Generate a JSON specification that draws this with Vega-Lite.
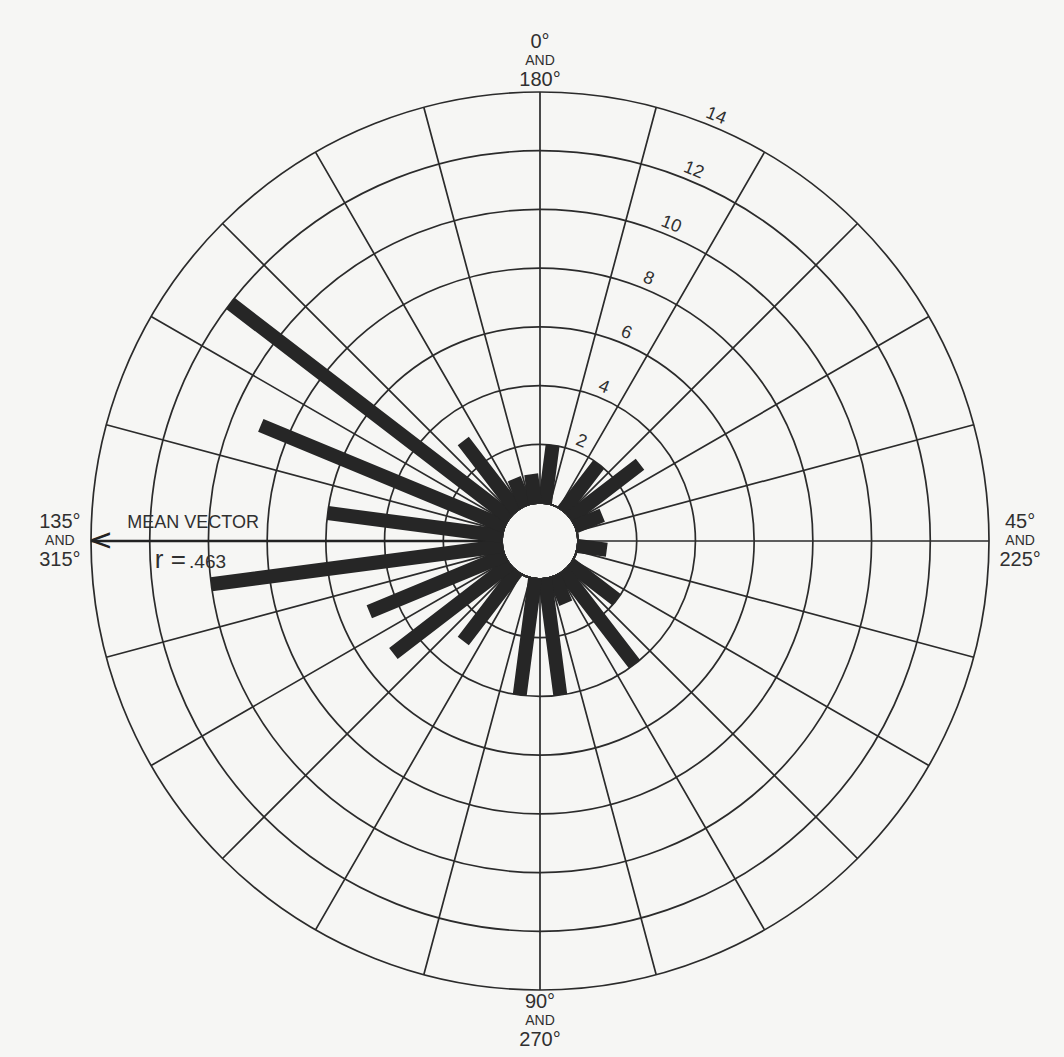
{
  "$schema": "https://vega.github.io/schema/vega-lite/v6.json",
  "autosize": {"type": "none"},
  "width": 1000,
  "height": 1000,
  "padding": {"left": 40, "top": 41, "right": 24, "bottom": 16},
  "background": "#f6f6f4",
  "config": {
    "view": {"stroke": null},
    "text": {"font": "Liberation Sans", "color": "#303030"}
  },
  "datasets": {
    "bins": [
      {"direction": 3.75, "count": 2},
      {"direction": 11.25, "count": 0},
      {"direction": 18.75, "count": 2},
      {"direction": 26.25, "count": 3},
      {"direction": 33.75, "count": 1},
      {"direction": 41.25, "count": 0},
      {"direction": 48.75, "count": 1},
      {"direction": 56.25, "count": 0},
      {"direction": 63.75, "count": 2},
      {"direction": 71.25, "count": 4},
      {"direction": 78.75, "count": 1},
      {"direction": 86.25, "count": 4},
      {"direction": 93.75, "count": 4},
      {"direction": 101.25, "count": 0},
      {"direction": 108.75, "count": 3},
      {"direction": 116.25, "count": 5},
      {"direction": 123.75, "count": 5},
      {"direction": 131.25, "count": 10},
      {"direction": 138.75, "count": 6},
      {"direction": 146.25, "count": 9},
      {"direction": 153.75, "count": 12},
      {"direction": 161.25, "count": 3},
      {"direction": 168.75, "count": 1},
      {"direction": 176.25, "count": 1}
    ],
    "rings": [
      {"ring": 0}, {"ring": 2}, {"ring": 4}, {"ring": 6}, {"ring": 8},
      {"ring": 10}, {"ring": 12}, {"ring": 14}
    ],
    "spokes": [
      {"angle": 0}, {"angle": 7.5}, {"angle": 15}, {"angle": 22.5},
      {"angle": 30}, {"angle": 37.5}, {"angle": 45}, {"angle": 52.5},
      {"angle": 60}, {"angle": 67.5}, {"angle": 75}, {"angle": 82.5},
      {"angle": 90}, {"angle": 97.5}, {"angle": 105}, {"angle": 112.5},
      {"angle": 120}, {"angle": 127.5}, {"angle": 135}, {"angle": 142.5},
      {"angle": 150}, {"angle": 157.5}, {"angle": 165}, {"angle": 172.5}
    ],
    "compass": [
      {"angle": 0, "first": "0°", "second": "180°"},
      {"angle": 45, "first": "45°", "second": "225°"},
      {"angle": 90, "first": "90°", "second": "270°"},
      {"angle": 135, "first": "135°", "second": "315°"}
    ],
    "mean": [
      {"direction": 135, "r": ".463"}
    ]
  },
  "layer": [
    {
      "data": {"name": "rings"},
      "mark": {"type": "arc", "filled": false, "color": "#2b2b2b", "strokeWidth": 1.7},
      "encoding": {
        "theta": {"datum": 0, "type": "quantitative", "scale": {"domain": [0, 180], "range": [0, 6.283185307179586]}},
        "theta2": {"datum": 180},
        "radius": {"field": "ring", "type": "quantitative", "stack": null, "scale": {"type": "linear", "domain": [0, 14], "range": [38, 449], "zero": false}}
      }
    },
    {
      "data": {"name": "spokes"},
      "mark": {"type": "arc", "filled": false, "color": "#2b2b2b", "strokeWidth": 1.7},
      "encoding": {
        "theta": {"field": "angle", "type": "quantitative", "stack": null, "scale": {"domain": [0, 180], "range": [0, 6.283185307179586]}},
        "theta2": {"field": "angle"},
        "radius": {"datum": 14, "type": "quantitative", "scale": {"type": "linear", "domain": [0, 14], "range": [38, 449], "zero": false}},
        "radius2": {"datum": 0}
      }
    },
    {
      "data": {"name": "mean"},
      "mark": {"type": "arc", "filled": false, "color": "#222222", "strokeWidth": 2.6},
      "encoding": {
        "theta": {"field": "direction", "type": "quantitative", "stack": null, "scale": {"domain": [0, 180], "range": [0, 6.283185307179586]}},
        "theta2": {"field": "direction"},
        "radius": {"datum": 14, "type": "quantitative", "scale": {"type": "linear", "domain": [0, 14], "range": [38, 449], "zero": false}},
        "radius2": {"datum": 0}
      }
    },
    {
      "data": {"name": "bins"},
      "transform": [{"filter": "datum.count > 0"}],
      "mark": {"type": "arc", "color": "#262626", "stroke": "#262626", "strokeWidth": 14, "strokeJoin": "bevel"},
      "encoding": {
        "theta": {"field": "direction", "type": "quantitative", "stack": null, "scale": {"domain": [0, 180], "range": [0, 6.283185307179586]}},
        "theta2": {"field": "direction"},
        "radius": {"field": "count", "type": "quantitative", "stack": null, "scale": {"type": "linear", "domain": [0, 14], "range": [38, 449], "zero": false}},
        "radius2": {"datum": 0}
      }
    },
    {
      "data": {"name": "rings"},
      "transform": [{"filter": "datum.ring > 0"}],
      "mark": {"type": "text", "radiusOffset": 11, "angle": 22, "fontSize": 18, "align": "center", "baseline": "middle"},
      "encoding": {
        "theta": {"datum": 11.25, "type": "quantitative", "scale": {"domain": [0, 180], "range": [0, 6.283185307179586]}},
        "radius": {"field": "ring", "type": "quantitative", "stack": null, "scale": {"type": "linear", "domain": [0, 14], "range": [38, 449], "zero": false}},
        "text": {"field": "ring", "type": "quantitative"}
      }
    },
    {
      "data": {"name": "compass"},
      "mark": {"type": "text", "fontSize": 20, "align": "center", "baseline": "middle", "dy": -19},
      "encoding": {
        "theta": {"field": "angle", "type": "quantitative", "stack": null, "scale": {"domain": [0, 180], "range": [0, 6.283185307179586]}},
        "radius": {"datum": 15.06, "type": "quantitative", "scale": {"type": "linear", "domain": [0, 14], "range": [38, 449], "zero": false}},
        "text": {"field": "first"}
      }
    },
    {
      "data": {"name": "compass"},
      "mark": {"type": "text", "fontSize": 14, "align": "center", "baseline": "middle", "dy": 0},
      "encoding": {
        "theta": {"field": "angle", "type": "quantitative", "stack": null, "scale": {"domain": [0, 180], "range": [0, 6.283185307179586]}},
        "radius": {"datum": 15.06, "type": "quantitative", "scale": {"type": "linear", "domain": [0, 14], "range": [38, 449], "zero": false}},
        "text": {"value": "AND"}
      }
    },
    {
      "data": {"name": "compass"},
      "mark": {"type": "text", "fontSize": 20, "align": "center", "baseline": "middle", "dy": 19},
      "encoding": {
        "theta": {"field": "angle", "type": "quantitative", "stack": null, "scale": {"domain": [0, 180], "range": [0, 6.283185307179586]}},
        "radius": {"datum": 15.06, "type": "quantitative", "scale": {"type": "linear", "domain": [0, 14], "range": [38, 449], "zero": false}},
        "text": {"field": "second"}
      }
    },
    {
      "data": {"name": "mean"},
      "mark": {"type": "text", "fontSize": 18, "align": "center", "baseline": "alphabetic", "dy": -13},
      "encoding": {
        "theta": {"field": "direction", "type": "quantitative", "stack": null, "scale": {"domain": [0, 180], "range": [0, 6.283185307179586]}},
        "radius": {"datum": 10.52, "type": "quantitative", "scale": {"type": "linear", "domain": [0, 14], "range": [38, 449], "zero": false}},
        "text": {"value": "MEAN VECTOR"}
      }
    },
    {
      "data": {"name": "mean"},
      "mark": {"type": "text", "fontSize": 26, "align": "right", "baseline": "alphabetic", "dy": 27},
      "encoding": {
        "theta": {"field": "direction", "type": "quantitative", "stack": null, "scale": {"domain": [0, 180], "range": [0, 6.283185307179586]}},
        "radius": {"datum": 10.77, "type": "quantitative", "scale": {"type": "linear", "domain": [0, 14], "range": [38, 449], "zero": false}},
        "text": {"value": "r ="}
      }
    },
    {
      "data": {"name": "mean"},
      "mark": {"type": "text", "fontSize": 19, "align": "left", "baseline": "alphabetic", "dy": 27},
      "encoding": {
        "theta": {"field": "direction", "type": "quantitative", "stack": null, "scale": {"domain": [0, 180], "range": [0, 6.283185307179586]}},
        "radius": {"datum": 10.66, "type": "quantitative", "scale": {"type": "linear", "domain": [0, 14], "range": [38, 449], "zero": false}},
        "text": {"field": "r"}
      }
    },
    {
      "data": {"name": "mean"},
      "mark": {"type": "text", "font": "DejaVu Sans", "fontSize": 30, "align": "left", "baseline": "middle", "radiusOffset": 3, "color": "#222222"},
      "encoding": {
        "theta": {"field": "direction", "type": "quantitative", "stack": null, "scale": {"domain": [0, 180], "range": [0, 6.283185307179586]}},
        "radius": {"datum": 14, "type": "quantitative", "scale": {"type": "linear", "domain": [0, 14], "range": [38, 449], "zero": false}},
        "text": {"value": "<"}
      }
    }
  ]
}
